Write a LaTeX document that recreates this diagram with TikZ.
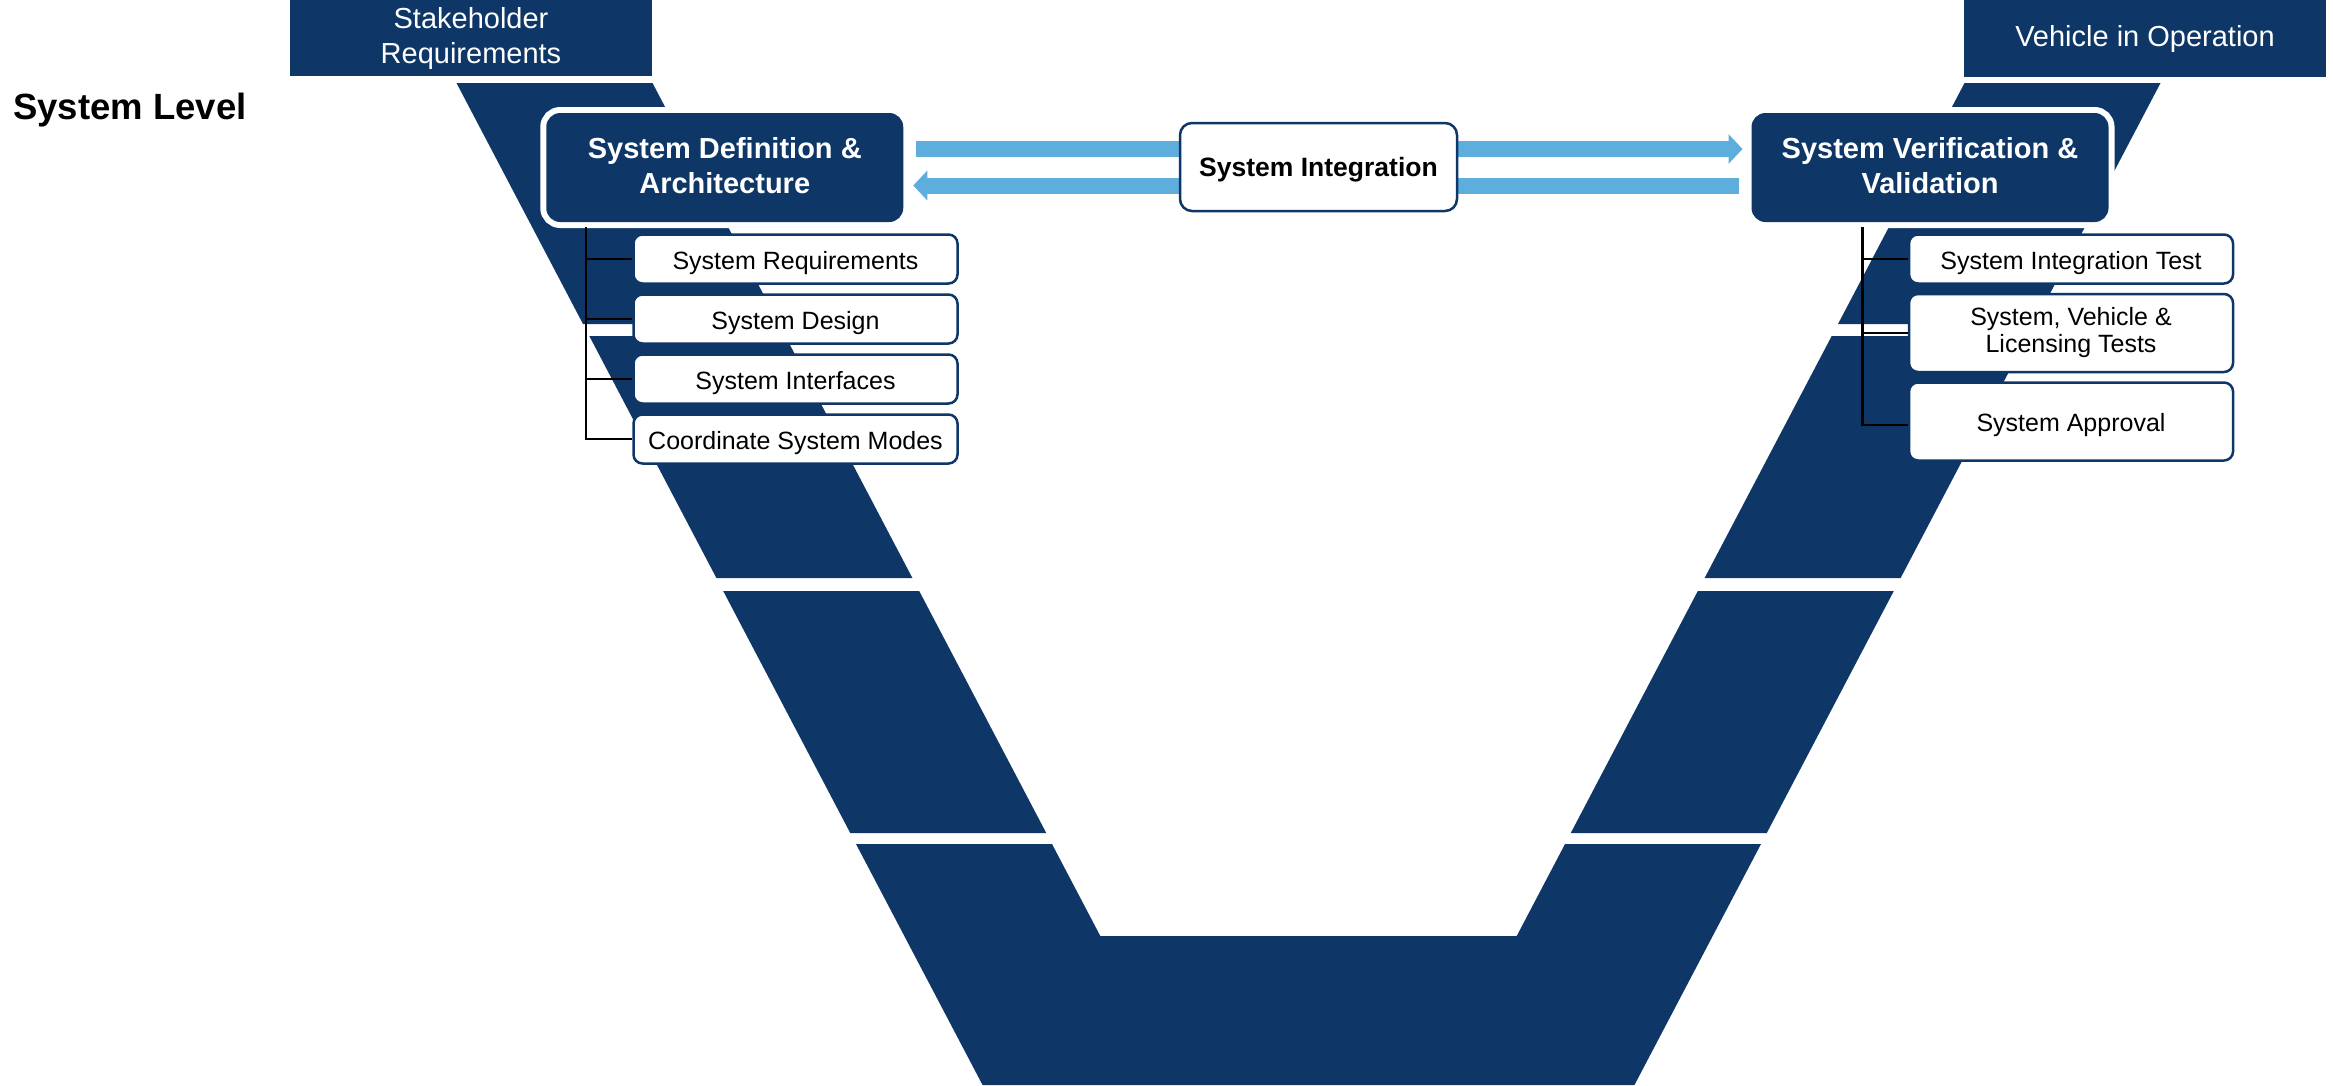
\documentclass[tikz,border=0pt]{standalone}
\usepackage{fontspec}
\setmainfont{Liberation Sans}
\usetikzlibrary{arrows.meta}

\definecolor{vnavy}{RGB}{14,55,104}
\definecolor{vblue}{RGB}{93,174,220}

% one arm of the V, split into three slanted bands
\newcommand\vmodelarm{%
  \fill[vnavy] (456.5,83) -- (652.5,83) -- (779,324) -- (583,324) -- cycle;
  \fill[vnavy] (589.3,336) -- (785.3,336) -- (912.4,578) -- (716.4,578) -- cycle;
  \fill[vnavy] (723.2,591) -- (919.2,591) -- (1046.25,833) -- (850.25,833) -- cycle;
}

\tikzset{
  topbox/.style={fill=vnavy, text=white, minimum width=362pt, minimum height=76pt,
    inner sep=0pt, outer sep=0pt, align=center, font=\fontsize{29}{35}\selectfont},
  phasebox/.style={fill=vnavy, text=white, rounded corners=14pt,
    preaction={draw=white, line width=12pt},
    minimum width=357pt, minimum height=109pt, inner sep=0pt, outer sep=0pt,
    align=center, font=\bfseries\fontsize{29}{35}\selectfont,
    execute at end node={\rule[-5pt]{0pt}{5pt}}},
  intbox/.style={fill=white, draw=vnavy, line width=2.5pt, rounded corners=12pt,
    minimum width=277pt, minimum height=88pt, inner sep=0pt, outer sep=0pt,
    text height=22pt, text depth=3pt,
    align=center, font=\bfseries\fontsize{26.5}{32}\selectfont},
  childbox/.style={fill=white, draw=vnavy, line width=2.5pt, rounded corners=9pt,
    minimum width=324pt, minimum height=49pt, inner sep=0pt, outer sep=1.25pt,
    align=center, text=black, font=\fontsize{25}{27}\selectfont},
  oneline/.style={text height=22pt, text depth=2pt},
  flow/.style={draw=vblue, line width=16pt, -{Triangle[width=29pt,length=14pt]}},
  tree/.style={draw=black, line width=2.5pt},
}

\begin{document}
\begin{tikzpicture}[x=1pt, y=-1pt]
\useasboundingbox (0,0) rectangle (2333,1085);
\fill[white] (0,0) rectangle (2333,1085);

% the V: left arm, mirrored right arm, and the bottom piece
\vmodelarm
\begin{scope}[xshift=2617pt, xscale=-1]
  \vmodelarm
\end{scope}
\fill[vnavy] (856,844) -- (1052,844) -- (1100.3,936) -- (1516.7,936)
  -- (1565,844) -- (1761,844) -- (1634.45,1085) -- (982.55,1085) -- cycle;

% level label and the two end boxes
\node[anchor=base west, inner sep=0pt, font=\bfseries\fontsize{36.5}{40}\selectfont]
  (level) at (13,119) {System Level};
\node[topbox] (stake) at (471,38) {Stakeholder\\Requirements};
\node[topbox, minimum height=77pt] (vehicle) at (2145,38.5) {Vehicle in Operation};

% phase boxes
\node[phasebox] (sysdef) at (724.75,167.5) {System Definition \&\\Architecture};
\node[phasebox] (sysver) at (1930,167.5) {System Verification \&\\Validation};

% integration flow between the phases
\draw[flow] ([xshift=13pt,yshift=18.5pt]sysdef.east) -- ([xshift=-9pt,yshift=18.5pt]sysver.west);
\draw[flow] ([xshift=-13pt,yshift=-18pt]sysver.west) -- ([xshift=10pt,yshift=-18pt]sysdef.east);
\node[intbox] (sysint) at (1318.5,167) {System Integration};

% left breakdown
\node[childbox, oneline] (sreq) at (795.5,259) {System Requirements};
\node[childbox, oneline] (sdes) at (795.5,319) {System Design};
\node[childbox, oneline] (sifc) at (795.5,379) {System Interfaces};
\node[childbox, oneline] (smod) at (795.5,439) {Coordinate System Modes};
\coordinate (ltrunk) at (586,227);
\draw[tree] (ltrunk) |- (sreq.west);
\draw[tree] (ltrunk) |- (sdes.west);
\draw[tree] (ltrunk) |- (sifc.west);
\draw[tree] (ltrunk) |- (smod.west);

% right breakdown
\node[childbox, oneline] (sitest) at (2071,259) {System Integration Test};
\node[childbox, minimum height=78pt] (svlt) at (2071,333) {System, Vehicle \&\\Licensing Tests};
\node[childbox, oneline, minimum height=78pt] (sapp) at (2071,421.5) {System Approval};
\coordinate (rtrunk) at (1862.5,227);
\draw[tree] (rtrunk) |- (sitest.west);
\draw[tree] (rtrunk) |- (svlt.west);
\draw[tree] (rtrunk) |- ([yshift=-3.5pt]sapp.west);
\end{tikzpicture}
\end{document}
